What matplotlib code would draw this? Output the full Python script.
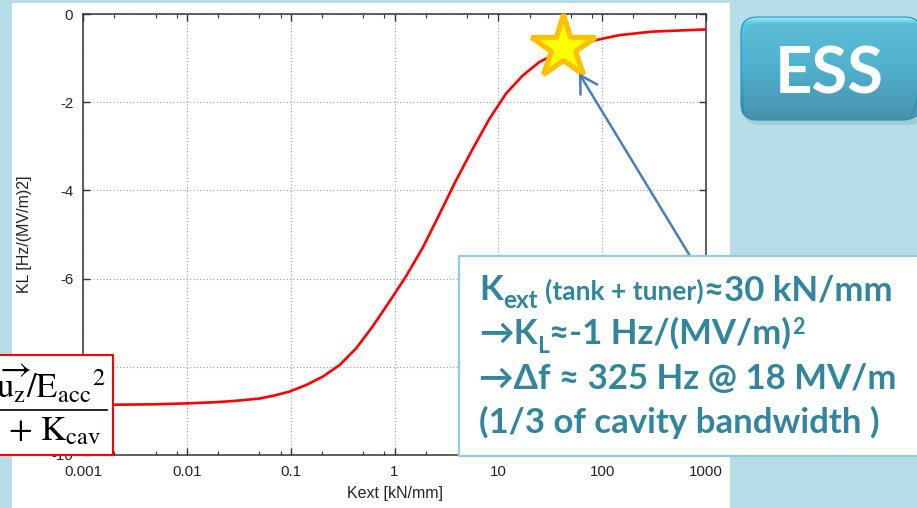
import numpy as np
import matplotlib
matplotlib.use('Agg')
import matplotlib.pyplot as plt
import matplotlib.ticker as plticker
from matplotlib.patches import Rectangle, FancyBboxPatch
from matplotlib.colors import LinearSegmentedColormap

# KL vs Kext
kext = [0.001, 0.002, 0.005, 0.01, 0.02, 0.03, 0.05, 0.07, 0.098, 0.142,
        0.205, 0.296, 0.428, 0.618, 0.895, 1.29, 1.87, 2.71, 3.9, 5.66,
        8.2, 11.9, 17.1, 24.8, 40, 80, 146, 300, 1000]
kl = [-8.86, -8.86, -8.85, -8.83, -8.80, -8.77, -8.72, -8.65, -8.56, -8.41,
      -8.22, -7.96, -7.58, -7.08, -6.52, -5.95, -5.30, -4.54, -3.78, -3.06,
      -2.38, -1.80, -1.40, -1.09, -0.84, -0.61, -0.48, -0.40, -0.35]

# operating point (star)
star_kext = [42]
star_kl = [-0.75]

xtick_vals = [0.001, 0.01, 0.1, 1, 10, 100, 1000]
xtick_labels = ['0.001', '0.01', '0.1', '1', '10', '100', '1000']
ytick_vals = [0, -2, -4, -6, -8, -10]
ytick_labels = ['0', '-2', '-4', '-6', '-8', '-10']

W, H = 917, 508
TEAL = '#31859C'

plt.rcParams['font.family'] = ['Liberation Sans', 'DejaVu Sans']
plt.rcParams['axes.unicode_minus'] = False

fig = plt.figure(figsize=(W / 100, H / 100), dpi=100)
fig.patch.set_facecolor('#B7DEE8')

# slide background: white panel
bg = fig.add_axes([0, 0, 1, 1], zorder=-1)
bg.set_xlim(0, W)
bg.set_ylim(H, 0)
bg.axis('off')
bg.add_patch(Rectangle((12, 3), 718, 510, facecolor='white', edgecolor='none'))

# main chart
ax = fig.add_axes([83 / W, 1 - 455 / H, (706 - 83) / W, (455 - 14) / H])
ax.set_facecolor('white')
ax.plot(kext, kl, color='red', lw=1.9, zorder=3)
ax.set_xscale('log')
ax.set_xlim(1e-3, 1e3)
ax.set_ylim(-10, 0)
ax.set_xticks(xtick_vals)
ax.set_xticklabels(xtick_labels)
ax.xaxis.set_minor_locator(plticker.LogLocator(base=10, subs=(2, 5, 8)))
ax.xaxis.set_minor_formatter(plticker.NullFormatter())
ax.set_yticks(ytick_vals)
ax.set_yticklabels(ytick_labels)
ax.tick_params(which='both', direction='in', top=True, right=True,
               labelsize=10.8, labelcolor='#222222', color='#333333')
ax.tick_params(which='major', length=5, width=1, pad=7)
ax.tick_params(which='minor', length=3, width=0.8)
ax.grid(True, which='major', ls=(0, (1, 2)), color='#9a9a9a', lw=0.8)
for sp in ax.spines.values():
    sp.set_color('#333333')
    sp.set_linewidth(1.1)

ax.set_xlabel('Kext [kN/mm]', fontsize=11.5, color='#222222')
ax.set_ylabel('KL [Hz/(MV/m)2]', fontsize=11.5, color='#222222')
ax.xaxis.set_label_coords(0.5, (455 - 486) / 441)
ax.yaxis.set_label_coords((32 - 83) / 623, 0.5)

ax.plot(star_kext, star_kl, ls='none', marker='*', ms=48, mfc='#FFFF00',
        mec='#FFC000', mew=3.8, clip_on=False, zorder=6)

# overlay in slide pixels
ov = fig.add_axes([0, 0, 1, 1], zorder=10)
ov.set_xlim(0, W)
ov.set_ylim(H, 0)
ov.axis('off')
ov.patch.set_alpha(0)

ax.annotate('', xy=(star_kext[0], star_kl[0]), xycoords='data',
            xytext=(690, 256), textcoords=ov.transData,
            arrowprops=dict(arrowstyle='->,head_length=1.2,head_width=0.7',
                            color='#4A7EBB', lw=1.8, shrinkA=0, shrinkB=22),
            zorder=7)

# formula fragment (left, cut by the slide edge)
ov.add_patch(Rectangle((-3, 355), 116, 100, facecolor='white',
                       edgecolor='red', lw=1.5))
ov.plot([0, 107], [410, 410], color='black', lw=1.2)
ov.text(106, 398, r'$\overrightarrow{\mathrm{u_z}}/\mathrm{E_{acc}}^{2}$',
        ha='right', va='baseline', fontsize=25, math_fontfamily='stix')
ov.text(101, 440, r'$+\ \mathrm{K_{cav}}$',
        ha='right', va='baseline', fontsize=25, math_fontfamily='stix')

# text box (right)
ov.add_patch(Rectangle((459, 256), 470, 200, facecolor='white',
                       edgecolor='#93CDDD', lw=1.6))

renderer = fig.canvas.get_renderer()
fam = ['Lato', 'DejaVu Sans']
probe = ov.text(0, 0, '(1/3 of cavity bandwidth )', fontsize=22,
                fontweight='bold', family=fam)
S = 22 * 399 / probe.get_window_extent(renderer).width
probe.remove()


def put_runs(x0, y0, runs):
    x = x0
    for s, scale, dy, gap in runs:
        x += gap
        t = ov.text(x, y0 + dy, s, fontsize=S * scale, fontweight='bold',
                    color=TEAL, family=fam, ha='left', va='baseline')
        x += t.get_window_extent(renderer).width


put_runs(479, 300, [('K', 1, 0, 0), ('ext', 0.7, 8, 0),
                    ('(tank + tuner)', 0.76, 0, 8), ('≈30 kN/mm', 1, 0, 0)])
put_runs(479, 344, [('→K', 1, 0, 0), ('L', 0.66, 9, 0),
                    ('≈-1 Hz/(MV/m)', 1, 0, 0), ('2', 0.62, -10, 1)])
put_runs(479, 389, [('→Δf ≈ 325 Hz @ 18 MV/m', 1, 0, 0)])
put_runs(479, 433, [('(1/3 of cavity bandwidth )', 1, 0, 0)])

# ESS button
ov.add_patch(FancyBboxPatch((744, 22), 180, 103,
                            boxstyle='round,pad=0,rounding_size=16',
                            facecolor='#7aa9b8', edgecolor='none', alpha=0.35))
btn = FancyBboxPatch((741, 17), 180, 103,
                     boxstyle='round,pad=0,rounding_size=16',
                     facecolor='none', edgecolor='#2E8FAE', lw=0.8)
ov.add_patch(btn)
grad_cmap = LinearSegmentedColormap.from_list(
    'btn', [(0, '#9BE6F7'), (0.07, '#4DC8E8'), (0.45, '#3CB8DC'),
            (0.8, '#3199BC'), (1, '#2A85A4')])
g = np.linspace(0, 1, 200).reshape(-1, 1)
im = ov.imshow(g, cmap=grad_cmap, extent=(741, 921, 120, 17), aspect='auto',
               interpolation='bilinear')
im.set_clip_path(btn)
ov.set_xlim(0, W)
ov.set_ylim(H, 0)
ov.text(829, 93, 'ESS', color='white', fontsize=47, fontweight='bold',
        family=fam, ha='center', va='baseline')

fig.savefig('out.png', dpi=100, facecolor=fig.get_facecolor())
